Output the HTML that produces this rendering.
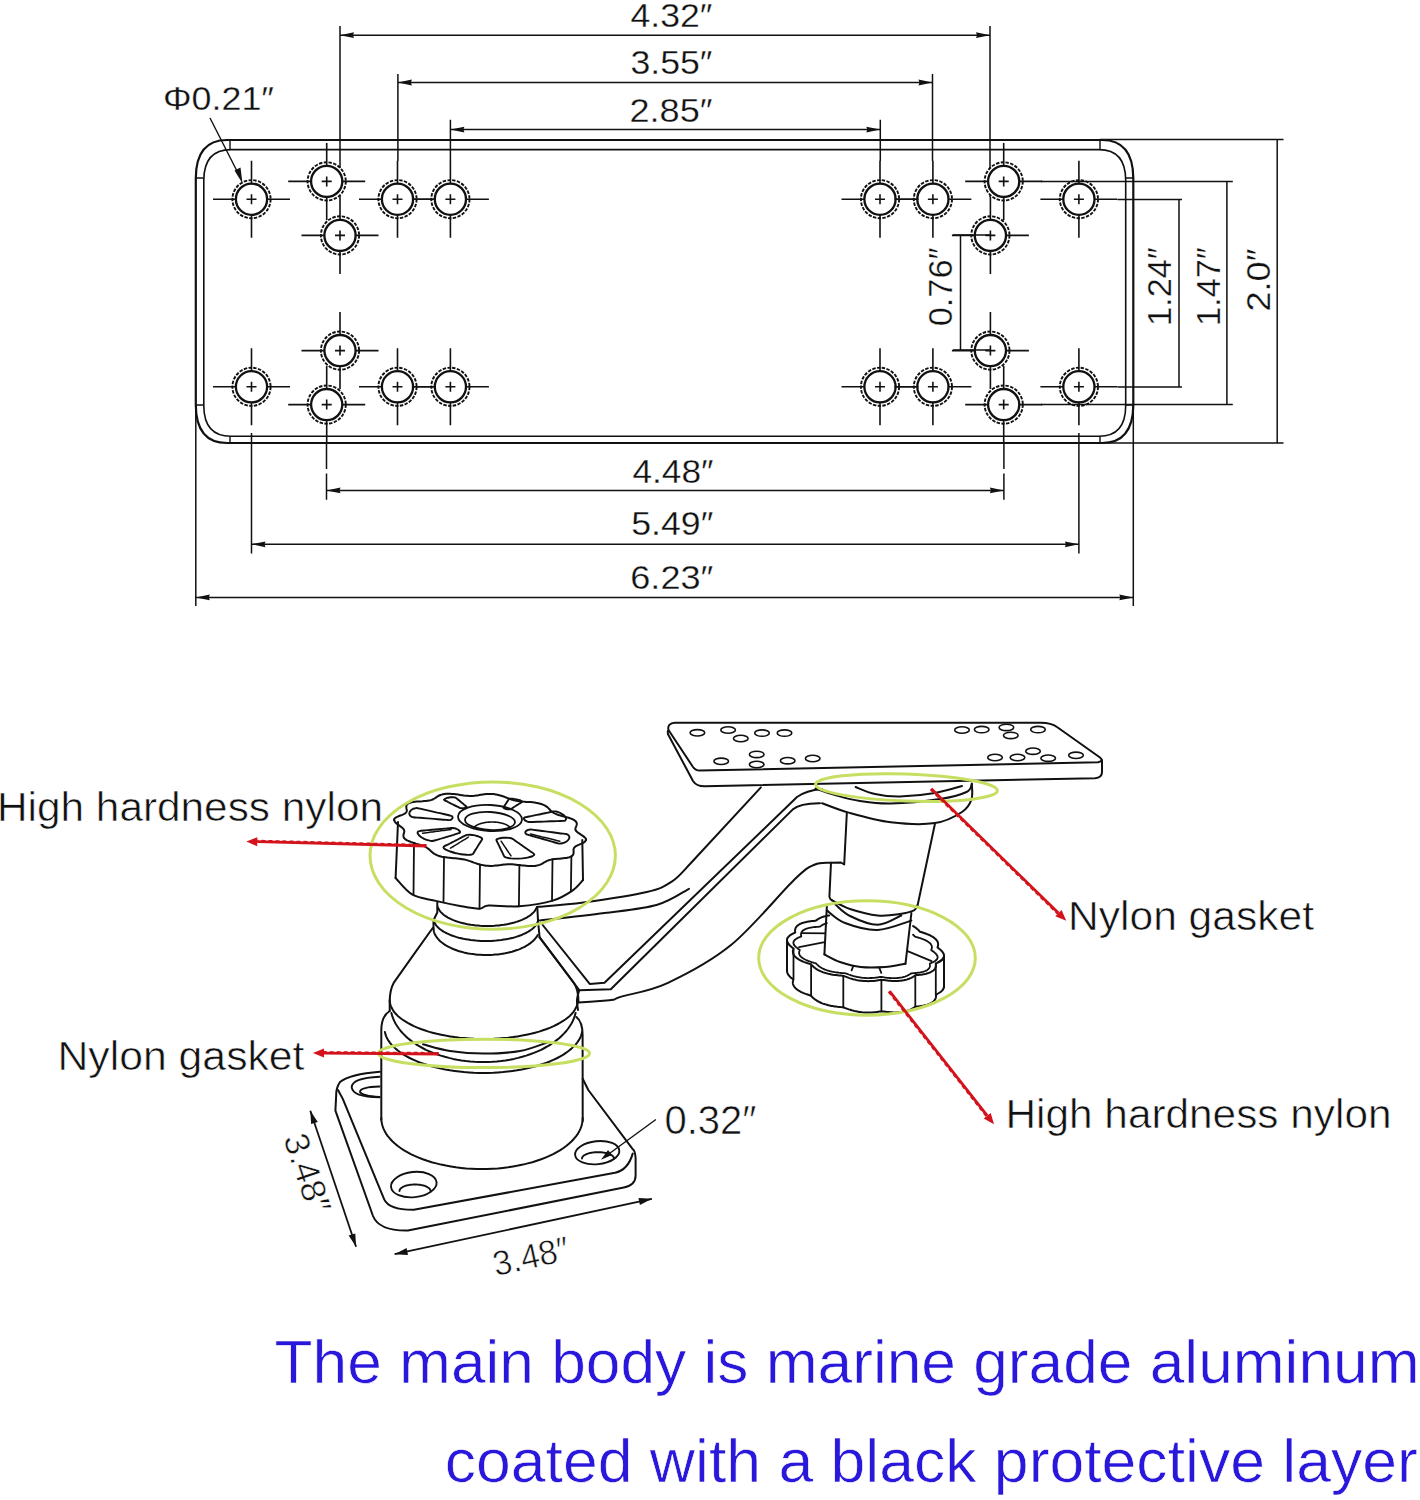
<!DOCTYPE html>
<html><head><meta charset="utf-8"><style>
html,body{margin:0;padding:0;background:#fff;}
body{width:1420px;height:1500px;overflow:hidden;position:relative;}
svg{position:absolute;left:0;top:0;}
</style></head><body>
<svg width="1420" height="1500" viewBox="0 0 1420 1500">
<path d="M227 140H1102 Q1133 140 1133.3 178 V405 Q1133 443 1102 443 H227 Q196 443 195.8 405 V178 Q196 140 227 140Z" fill="none" stroke="#111" stroke-width="2.2"/>
<path d="M231 149.6H1099 Q1125.5 149.6 1125.7 180 V406 Q1125.5 436.3 1099 436.3 H231 Q204 436.3 203.8 406 V180 Q204 149.6 231 149.6Z" fill="none" stroke="#111" stroke-width="1.6"/>
<path d="M230 140V149.6M1100 140V149.6M230 443V436.3M1100 443V436.3M195.8 178H203.8M195.8 405H203.8M1133.3 178H1125.7M1133.3 405H1125.7" stroke="#111" stroke-width="1.4"/>
<circle cx="251.5" cy="199.2" r="19.1" fill="none" stroke="#111" stroke-width="1.9" stroke-dasharray="3.4 1.4"/><circle cx="251.5" cy="199.2" r="15.6" fill="none" stroke="#111" stroke-width="2.3"/><path d="M213.0 199.2H236.5M266.5 199.2H290.0M251.5 160.7V184.2M251.5 214.2V237.7M246.5 199.2H256.5M251.5 194.2V204.2" stroke="#111" stroke-width="1.6" fill="none"/>
<circle cx="397.5" cy="199.2" r="19.1" fill="none" stroke="#111" stroke-width="1.9" stroke-dasharray="3.4 1.4"/><circle cx="397.5" cy="199.2" r="15.6" fill="none" stroke="#111" stroke-width="2.3"/><path d="M359.0 199.2H382.5M412.5 199.2H436.0M397.5 160.7V184.2M397.5 214.2V237.7M392.5 199.2H402.5M397.5 194.2V204.2" stroke="#111" stroke-width="1.6" fill="none"/>
<circle cx="450.4" cy="199.2" r="19.1" fill="none" stroke="#111" stroke-width="1.9" stroke-dasharray="3.4 1.4"/><circle cx="450.4" cy="199.2" r="15.6" fill="none" stroke="#111" stroke-width="2.3"/><path d="M411.9 199.2H435.4M465.4 199.2H488.9M450.4 160.7V184.2M450.4 214.2V237.7M445.4 199.2H455.4M450.4 194.2V204.2" stroke="#111" stroke-width="1.6" fill="none"/>
<circle cx="326.7" cy="181.4" r="19.1" fill="none" stroke="#111" stroke-width="1.9" stroke-dasharray="3.4 1.4"/><circle cx="326.7" cy="181.4" r="15.6" fill="none" stroke="#111" stroke-width="2.3"/><path d="M288.2 181.4H311.7M341.7 181.4H365.2M326.7 142.9V166.4M326.7 196.4V219.9M321.7 181.4H331.7M326.7 176.4V186.4" stroke="#111" stroke-width="1.6" fill="none"/>
<circle cx="340.0" cy="235.4" r="19.1" fill="none" stroke="#111" stroke-width="1.9" stroke-dasharray="3.4 1.4"/><circle cx="340.0" cy="235.4" r="15.6" fill="none" stroke="#111" stroke-width="2.3"/><path d="M301.5 235.4H325.0M355.0 235.4H378.5M340.0 196.9V220.4M340.0 250.4V273.9M335.0 235.4H345.0M340.0 230.4V240.4" stroke="#111" stroke-width="1.6" fill="none"/>
<circle cx="251.5" cy="386.8" r="19.1" fill="none" stroke="#111" stroke-width="1.9" stroke-dasharray="3.4 1.4"/><circle cx="251.5" cy="386.8" r="15.6" fill="none" stroke="#111" stroke-width="2.3"/><path d="M213.0 386.8H236.5M266.5 386.8H290.0M251.5 348.3V371.8M251.5 401.8V425.3M246.5 386.8H256.5M251.5 381.8V391.8" stroke="#111" stroke-width="1.6" fill="none"/>
<circle cx="397.5" cy="386.8" r="19.1" fill="none" stroke="#111" stroke-width="1.9" stroke-dasharray="3.4 1.4"/><circle cx="397.5" cy="386.8" r="15.6" fill="none" stroke="#111" stroke-width="2.3"/><path d="M359.0 386.8H382.5M412.5 386.8H436.0M397.5 348.3V371.8M397.5 401.8V425.3M392.5 386.8H402.5M397.5 381.8V391.8" stroke="#111" stroke-width="1.6" fill="none"/>
<circle cx="450.4" cy="386.8" r="19.1" fill="none" stroke="#111" stroke-width="1.9" stroke-dasharray="3.4 1.4"/><circle cx="450.4" cy="386.8" r="15.6" fill="none" stroke="#111" stroke-width="2.3"/><path d="M411.9 386.8H435.4M465.4 386.8H488.9M450.4 348.3V371.8M450.4 401.8V425.3M445.4 386.8H455.4M450.4 381.8V391.8" stroke="#111" stroke-width="1.6" fill="none"/>
<circle cx="326.7" cy="404.6" r="19.1" fill="none" stroke="#111" stroke-width="1.9" stroke-dasharray="3.4 1.4"/><circle cx="326.7" cy="404.6" r="15.6" fill="none" stroke="#111" stroke-width="2.3"/><path d="M288.2 404.6H311.7M341.7 404.6H365.2M326.7 366.1V389.6M326.7 419.6V443.1M321.7 404.6H331.7M326.7 399.6V409.6" stroke="#111" stroke-width="1.6" fill="none"/>
<circle cx="340.0" cy="350.6" r="19.1" fill="none" stroke="#111" stroke-width="1.9" stroke-dasharray="3.4 1.4"/><circle cx="340.0" cy="350.6" r="15.6" fill="none" stroke="#111" stroke-width="2.3"/><path d="M301.5 350.6H325.0M355.0 350.6H378.5M340.0 312.1V335.6M340.0 365.6V389.1M335.0 350.6H345.0M340.0 345.6V355.6" stroke="#111" stroke-width="1.6" fill="none"/>
<circle cx="1078.9" cy="199.2" r="19.1" fill="none" stroke="#111" stroke-width="1.9" stroke-dasharray="3.4 1.4"/><circle cx="1078.9" cy="199.2" r="15.6" fill="none" stroke="#111" stroke-width="2.3"/><path d="M1040.4 199.2H1063.9M1093.9 199.2H1117.4M1078.9 160.7V184.2M1078.9 214.2V237.7M1073.9 199.2H1083.9M1078.9 194.2V204.2" stroke="#111" stroke-width="1.6" fill="none"/>
<circle cx="932.9" cy="199.2" r="19.1" fill="none" stroke="#111" stroke-width="1.9" stroke-dasharray="3.4 1.4"/><circle cx="932.9" cy="199.2" r="15.6" fill="none" stroke="#111" stroke-width="2.3"/><path d="M894.4 199.2H917.9M947.9 199.2H971.4M932.9 160.7V184.2M932.9 214.2V237.7M927.9 199.2H937.9M932.9 194.2V204.2" stroke="#111" stroke-width="1.6" fill="none"/>
<circle cx="880.0" cy="199.2" r="19.1" fill="none" stroke="#111" stroke-width="1.9" stroke-dasharray="3.4 1.4"/><circle cx="880.0" cy="199.2" r="15.6" fill="none" stroke="#111" stroke-width="2.3"/><path d="M841.5 199.2H865.0M895.0 199.2H918.5M880.0 160.7V184.2M880.0 214.2V237.7M875.0 199.2H885.0M880.0 194.2V204.2" stroke="#111" stroke-width="1.6" fill="none"/>
<circle cx="1003.7" cy="181.4" r="19.1" fill="none" stroke="#111" stroke-width="1.9" stroke-dasharray="3.4 1.4"/><circle cx="1003.7" cy="181.4" r="15.6" fill="none" stroke="#111" stroke-width="2.3"/><path d="M965.2 181.4H988.7M1018.7 181.4H1042.2M1003.7 142.9V166.4M1003.7 196.4V219.9M998.7 181.4H1008.7M1003.7 176.4V186.4" stroke="#111" stroke-width="1.6" fill="none"/>
<circle cx="990.4" cy="235.4" r="19.1" fill="none" stroke="#111" stroke-width="1.9" stroke-dasharray="3.4 1.4"/><circle cx="990.4" cy="235.4" r="15.6" fill="none" stroke="#111" stroke-width="2.3"/><path d="M951.9 235.4H975.4M1005.4 235.4H1028.9M990.4 196.9V220.4M990.4 250.4V273.9M985.4 235.4H995.4M990.4 230.4V240.4" stroke="#111" stroke-width="1.6" fill="none"/>
<circle cx="1078.9" cy="386.8" r="19.1" fill="none" stroke="#111" stroke-width="1.9" stroke-dasharray="3.4 1.4"/><circle cx="1078.9" cy="386.8" r="15.6" fill="none" stroke="#111" stroke-width="2.3"/><path d="M1040.4 386.8H1063.9M1093.9 386.8H1117.4M1078.9 348.3V371.8M1078.9 401.8V425.3M1073.9 386.8H1083.9M1078.9 381.8V391.8" stroke="#111" stroke-width="1.6" fill="none"/>
<circle cx="932.9" cy="386.8" r="19.1" fill="none" stroke="#111" stroke-width="1.9" stroke-dasharray="3.4 1.4"/><circle cx="932.9" cy="386.8" r="15.6" fill="none" stroke="#111" stroke-width="2.3"/><path d="M894.4 386.8H917.9M947.9 386.8H971.4M932.9 348.3V371.8M932.9 401.8V425.3M927.9 386.8H937.9M932.9 381.8V391.8" stroke="#111" stroke-width="1.6" fill="none"/>
<circle cx="880.0" cy="386.8" r="19.1" fill="none" stroke="#111" stroke-width="1.9" stroke-dasharray="3.4 1.4"/><circle cx="880.0" cy="386.8" r="15.6" fill="none" stroke="#111" stroke-width="2.3"/><path d="M841.5 386.8H865.0M895.0 386.8H918.5M880.0 348.3V371.8M880.0 401.8V425.3M875.0 386.8H885.0M880.0 381.8V391.8" stroke="#111" stroke-width="1.6" fill="none"/>
<circle cx="1003.7" cy="404.6" r="19.1" fill="none" stroke="#111" stroke-width="1.9" stroke-dasharray="3.4 1.4"/><circle cx="1003.7" cy="404.6" r="15.6" fill="none" stroke="#111" stroke-width="2.3"/><path d="M965.2 404.6H988.7M1018.7 404.6H1042.2M1003.7 366.1V389.6M1003.7 419.6V443.1M998.7 404.6H1008.7M1003.7 399.6V409.6" stroke="#111" stroke-width="1.6" fill="none"/>
<circle cx="990.4" cy="350.6" r="19.1" fill="none" stroke="#111" stroke-width="1.9" stroke-dasharray="3.4 1.4"/><circle cx="990.4" cy="350.6" r="15.6" fill="none" stroke="#111" stroke-width="2.3"/><path d="M951.9 350.6H975.4M1005.4 350.6H1028.9M990.4 312.1V335.6M990.4 365.6V389.1M985.4 350.6H995.4M990.4 345.6V355.6" stroke="#111" stroke-width="1.6" fill="none"/>
<path d="M340 26V168M340 195V197M990 26V168M990 195V197M397.9 74V161M932.5 74V161M450.4 119.7V161M880.3 119.7V161" stroke="#111" stroke-width="1.5"/>
<path d="M340.0 35.2H990.0" stroke="#111" stroke-width="1.5"/><path d="M340.0 35.2L354.0 32.3L353.0 35.2L354.0 38.1Z" fill="#111"/><path d="M990.0 35.2L976.0 32.3L977.0 35.2L976.0 38.1Z" fill="#111"/>
<path d="M397.9 82.5H932.5" stroke="#111" stroke-width="1.5"/><path d="M397.9 82.5L411.9 79.6L410.9 82.5L411.9 85.4Z" fill="#111"/><path d="M932.5 82.5L918.5 79.6L919.5 82.5L918.5 85.4Z" fill="#111"/>
<path d="M450.4 129.6H880.3" stroke="#111" stroke-width="1.5"/><path d="M450.4 129.6L464.4 126.7L463.4 129.6L464.4 132.5Z" fill="#111"/><path d="M880.3 129.6L866.3 126.7L867.3 129.6L866.3 132.5Z" fill="#111"/>
<path d="M326.5 442V469M326.5 473.5V499.7M1003.9 442V469M1003.9 473.5V499.7M251.5 433V553.5M1078.9 433V553.5M195.8 405V606M1133.3 405V606" stroke="#111" stroke-width="1.5"/>
<path d="M326.5 490.4H1003.9" stroke="#111" stroke-width="1.5"/><path d="M326.5 490.4L340.5 487.5L339.5 490.4L340.5 493.3Z" fill="#111"/><path d="M1003.9 490.4L989.9 487.5L990.9 490.4L989.9 493.3Z" fill="#111"/>
<path d="M251.5 544.3H1078.9" stroke="#111" stroke-width="1.5"/><path d="M251.5 544.3L265.5 541.4L264.5 544.3L265.5 547.2Z" fill="#111"/><path d="M1078.9 544.3L1064.9 541.4L1065.9 544.3L1064.9 547.2Z" fill="#111"/>
<path d="M195.8 597.4H1133.3" stroke="#111" stroke-width="1.5"/><path d="M195.8 597.4L209.8 594.5L208.8 597.4L209.8 600.3Z" fill="#111"/><path d="M1133.3 597.4L1119.3 594.5L1120.3 597.4L1119.3 600.3Z" fill="#111"/>
<path d="M1100 139.6H1283.5M1100 443H1283.5M1277.2 139.6V443M1041 181.5H1232.8M1041 404.6H1232.8M1226.9 181.5V404.6M1117.5 199.6H1182M1117.5 387H1182M1179 199.6V387M953 235H990M953 350H990M960.5 235V350" stroke="#111" stroke-width="1.5" fill="none"/>
<g font-family='"Liberation Sans", sans-serif' fill="#111" stroke="#fff" stroke-width="0.3">
<text x="630.5" y="27.3" font-size="34" text-anchor="start" textLength="82" lengthAdjust="spacingAndGlyphs" >4.32″</text>
<text x="630.5" y="74.3" font-size="34" text-anchor="start" textLength="82" lengthAdjust="spacingAndGlyphs" >3.55″</text>
<text x="629.5" y="121.5" font-size="34" text-anchor="start" textLength="83" lengthAdjust="spacingAndGlyphs" >2.85″</text>
<text x="632.5" y="483.3" font-size="34" text-anchor="start" textLength="81" lengthAdjust="spacingAndGlyphs" >4.48″</text>
<text x="631.3" y="534.9" font-size="34" text-anchor="start" textLength="82" lengthAdjust="spacingAndGlyphs" >5.49″</text>
<text x="630.3" y="588.9" font-size="34" text-anchor="start" textLength="83" lengthAdjust="spacingAndGlyphs" >6.23″</text>
<text x="163" y="109.8" font-size="34" text-anchor="start" textLength="111" lengthAdjust="spacingAndGlyphs" >Φ0.21″</text>
<text x="0" y="0" font-size="34" text-anchor="middle" textLength="63" lengthAdjust="spacingAndGlyphs" transform="translate(1270 280) rotate(-90)">2.0″</text>
<text x="0" y="0" font-size="34" text-anchor="middle" textLength="79" lengthAdjust="spacingAndGlyphs" transform="translate(1219.7 286.5) rotate(-90)">1.47″</text>
<text x="0" y="0" font-size="34" text-anchor="middle" textLength="79" lengthAdjust="spacingAndGlyphs" transform="translate(1171 286.5) rotate(-90)">1.24″</text>
<text x="0" y="0" font-size="34" text-anchor="middle" textLength="79" lengthAdjust="spacingAndGlyphs" transform="translate(952.4 286.8) rotate(-90)">0.76″</text>
</g>
<path d="M210 118L240 177" stroke="#111" stroke-width="1.4"/><path d="M242.5 183.5L234.5 170.5L240.5 167.5Z" fill="#111"/>
<path d="M675 722.8 L1040 722.7 Q1051 722.5 1057 727 L1100 757.5 Q1104 761 1098 762.3 L700 770.5 Q695.5 770.6 693 767 L668.5 730 Q667 723.5 675 722.8Z" fill="none" stroke="#111" stroke-width="2.0" stroke-linejoin="round" stroke-linecap="round"/>
<path d="M667.8 731 L667.9 734 L693 781 Q696.5 786.5 705 786.3 L1095 778.2 Q1102 777.8 1102 772 L1102 760" fill="none" stroke="#111" stroke-width="2.0" stroke-linejoin="round" stroke-linecap="round"/>
<ellipse cx="697.4" cy="732.8" rx="7.3" ry="3.2" fill="none" stroke="#111" stroke-width="1.6"/>
<ellipse cx="728.1" cy="730" rx="7.3" ry="3.2" fill="none" stroke="#111" stroke-width="1.6"/>
<ellipse cx="740.8" cy="738.5" rx="7.3" ry="3.2" fill="none" stroke="#111" stroke-width="1.6"/>
<ellipse cx="762" cy="733.1" rx="7.3" ry="3.2" fill="none" stroke="#111" stroke-width="1.6"/>
<ellipse cx="784.5" cy="733.1" rx="7.3" ry="3.2" fill="none" stroke="#111" stroke-width="1.6"/>
<ellipse cx="721.2" cy="761.3" rx="7.3" ry="3.2" fill="none" stroke="#111" stroke-width="1.6"/>
<ellipse cx="756.7" cy="754.4" rx="7.3" ry="3.2" fill="none" stroke="#111" stroke-width="1.6"/>
<ellipse cx="756.7" cy="764.5" rx="7.3" ry="3.2" fill="none" stroke="#111" stroke-width="1.6"/>
<ellipse cx="787.7" cy="760.7" rx="7.3" ry="3.2" fill="none" stroke="#111" stroke-width="1.6"/>
<ellipse cx="812.7" cy="758.5" rx="7.3" ry="3.2" fill="none" stroke="#111" stroke-width="1.6"/>
<ellipse cx="962" cy="730" rx="7.3" ry="3.2" fill="none" stroke="#111" stroke-width="1.6"/>
<ellipse cx="981.7" cy="729.6" rx="7.3" ry="3.2" fill="none" stroke="#111" stroke-width="1.6"/>
<ellipse cx="1006.4" cy="727.4" rx="7.3" ry="3.2" fill="none" stroke="#111" stroke-width="1.6"/>
<ellipse cx="1010.8" cy="735.4" rx="7.3" ry="3.2" fill="none" stroke="#111" stroke-width="1.6"/>
<ellipse cx="1038" cy="729.6" rx="7.3" ry="3.2" fill="none" stroke="#111" stroke-width="1.6"/>
<ellipse cx="995" cy="757.5" rx="7.3" ry="3.2" fill="none" stroke="#111" stroke-width="1.6"/>
<ellipse cx="1017.5" cy="757.5" rx="7.3" ry="3.2" fill="none" stroke="#111" stroke-width="1.6"/>
<ellipse cx="1033" cy="751.2" rx="7.3" ry="3.2" fill="none" stroke="#111" stroke-width="1.6"/>
<ellipse cx="1048.2" cy="758.2" rx="7.3" ry="3.2" fill="none" stroke="#111" stroke-width="1.6"/>
<ellipse cx="1076" cy="755.3" rx="7.3" ry="3.2" fill="none" stroke="#111" stroke-width="1.6"/>
<path d="M538.0 906.8C545.6 906.1 565.3 905.0 583.4 902.5C601.5 900.0 632.0 895.5 646.8 892.0C661.6 888.5 664.9 886.1 672.1 881.4C679.3 876.7 687.0 866.9 690.0 864.0L760.9 787.4" fill="none" stroke="#111" stroke-width="2.0" stroke-linejoin="round" stroke-linecap="round"/>
<path d="M540.0 920.5C550.8 919.3 585.0 915.7 604.5 913.1C624.0 910.5 643.2 908.8 657.3 904.7C671.4 900.7 683.7 891.4 689.0 888.8" fill="none" stroke="#111" stroke-width="2.0" stroke-linejoin="round" stroke-linecap="round"/>
<path d="M542.7 925.0L589.7 983.9L604.5 982.8L797.0 797.0Q806 790.5 822 789" fill="none" stroke="#111" stroke-width="2.0" stroke-linejoin="round" stroke-linecap="round"/>
<path d="M539.6 937.3L579.2 990.2L610.8 989.2L792.6 809.6Q800 803 820 803.2" fill="none" stroke="#111" stroke-width="2.0" stroke-linejoin="round" stroke-linecap="round"/>
<path d="M579.2 990.2C578.8 991.8 577.2 996.7 577.0 1000.0C576.8 1003.3 577.8 1008.3 578.0 1010.0" fill="none" stroke="#111" stroke-width="2.0" stroke-linejoin="round" stroke-linecap="round"/>
<path d="M578.3 1002.4C581.9 1002.2 594.2 1001.4 600.0 1001.0C605.8 1000.6 609.4 1000.5 613.0 999.8C616.6 999.1 612.2 999.4 621.4 996.6C630.6 993.8 649.7 991.4 668.0 982.8C686.3 974.2 710.2 962.0 731.3 944.8C752.4 927.5 780.8 892.7 794.7 879.3C808.7 865.9 809.0 867.3 815.0 864.5C821.0 861.7 828.3 863.0 831.0 862.7" fill="none" stroke="#111" stroke-width="2.0" stroke-linejoin="round" stroke-linecap="round"/>
<path d="M846.8 813.5 L844.2 864.5 L841 862.5 L831 862.7 L829.4 896.9 Q830 899.5 832 900.3" fill="none" stroke="#111" stroke-width="2.0" stroke-linejoin="round" stroke-linecap="round"/>
<path d="M934.9 824 L917.3 906.8" fill="none" stroke="#111" stroke-width="2.0" stroke-linejoin="round" stroke-linecap="round"/>
<path d="M832.0 900.3C835.0 901.8 842.4 906.5 850.0 909.0C857.6 911.5 869.3 914.7 877.6 915.5C885.9 916.3 893.9 914.9 900.0 914.0C906.1 913.1 911.1 911.8 914.0 910.4C916.9 909.0 916.8 906.2 917.3 905.4" fill="none" stroke="#111" stroke-width="2.0" stroke-linejoin="round" stroke-linecap="round"/>
<path d="M822.0 803.2C826.4 804.8 837.1 809.4 848.6 812.6C860.1 815.8 876.4 820.5 890.8 822.3C905.2 824.0 923.0 824.8 934.9 823.1C946.8 821.4 955.9 816.0 962.0 812.0C968.1 808.0 969.9 804.1 971.5 799.4C973.1 794.6 971.8 786.1 971.8 783.5" fill="none" stroke="#111" stroke-width="2.0" stroke-linejoin="round" stroke-linecap="round"/>
<path d="M815.5 788.5C818.8 789.6 827.6 792.9 835.0 795.0C842.4 797.1 850.7 799.6 860.0 801.0C869.3 802.4 877.5 803.8 890.8 803.5C904.1 803.2 927.4 800.9 940.0 799.0C952.6 797.1 961.2 794.5 966.5 792.0C971.8 789.5 970.9 785.3 971.8 784.0" fill="none" stroke="#111" stroke-width="2.0" stroke-linejoin="round" stroke-linecap="round"/>
<path d="M855.6 787.0C858.8 788.2 867.6 792.4 875.0 794.0C882.4 795.6 890.0 796.7 900.0 796.5C910.0 796.3 924.7 794.8 935.0 793.0C945.3 791.2 957.5 787.2 962.0 786.0" fill="none" stroke="#111" stroke-width="2.0" stroke-linejoin="round" stroke-linecap="round"/>
<path d="M788.9 944.5L788.7 944.2L788.5 944.0L788.3 943.7L788.1 943.5L787.9 943.2L787.8 943.0L787.6 942.7L787.5 942.4L787.4 942.2L787.3 941.9L787.2 941.7L787.1 941.4L787.1 941.2L787.0 940.9L787.0 940.7L787.0 940.4L787.0 940.2L787.0 939.9L787.0 939.7L787.0 939.5L787.1 939.2L787.1 939.0L787.2 938.7L787.3 938.5L787.4 938.3L787.5 938.0L787.7 937.8L787.8 937.6L788.0 937.4L788.1 937.1L788.3 936.9L788.5 936.7L788.7 936.5L788.9 936.3L789.2 936.1L789.4 935.9L789.6 935.6L789.9 935.4L790.2 935.2L790.5 935.1L790.7 934.9L791.0 934.7L791.4 934.5L791.7 934.3L792.0 934.1L792.3 933.9L792.7 933.7L793.0 933.6L793.3 933.4L793.7 933.2L794.1 933.1L794.4 932.9L794.8 932.7L795.2 932.6L795.2 932.3L795.1 932.1L795.1 931.8L795.1 931.6L795.1 931.3L795.1 931.1L795.0 930.8L795.1 930.6L795.1 930.3L795.1 930.1L795.1 929.8L795.2 929.6L795.2 929.3L795.3 929.1L795.3 928.8L795.4 928.6L795.5 928.4L795.6 928.1L795.7 927.9L795.8 927.6L796.0 927.4L796.1 927.2L796.3 927.0L796.4 926.7L796.6 926.5L796.8 926.3L797.0 926.1L797.2 925.9L797.5 925.7L797.7 925.5L798.0 925.3L798.2 925.1L798.5 924.9L798.8 924.7L799.1 924.5L799.4 924.3L799.7 924.2L800.1 924.0L800.4 923.8L800.8 923.6L801.2 923.5L801.5 923.3L801.9 923.2L802.3 923.0L802.8 922.9L803.2 922.8L803.6 922.6L804.0 922.5L804.5 922.4L805.0 922.3L805.4 922.2L805.9 922.1L806.4 921.9L806.9 921.8L807.4 921.8L807.9 921.7L808.4 921.6L808.9 921.5L809.4 921.4L809.9 921.3L810.4 921.3L811.0 921.2L811.5 921.1L812.1 921.1L812.6 921.0L813.1 921.0L813.7 920.9L814.2 920.9L814.8 920.8L815.3 920.8L815.8 920.7L816.1 920.5L816.3 920.3L816.6 920.1L816.9 919.9L817.2 919.7L817.4 919.5L817.7 919.3L818.0 919.1L818.4 918.9L818.7 918.7L819.0 918.6L819.3 918.4L819.7 918.2L820.0 918.0L820.4 917.9L820.8 917.7L821.1 917.5L821.5 917.4L821.9 917.2L822.3 917.1L822.7 916.9L823.1 916.8L823.5 916.7L824.0 916.5L824.4 916.4L824.9 916.3L825.3 916.2L825.8 916.1L826.3 915.9L826.7 915.8L827.2 915.8L827.7 915.7L828.2 915.6L828.7 915.5L829.2 915.4" fill="none" stroke="#111" stroke-width="2.0" stroke-linejoin="round" stroke-linecap="round"/>
<path d="M913.0 926.0L913.3 926.2L913.7 926.5L914.1 926.7L914.4 926.9L914.8 927.1L915.1 927.4L915.5 927.6L915.8 927.8L916.1 928.1L916.4 928.3L916.7 928.5L917.0 928.8L917.3 929.0L917.5 929.3L917.8 929.5L918.1 929.7L918.3 930.0L918.6 930.2L918.8 930.5L919.0 930.7L919.2 931.0L919.5 931.2L919.7 931.5L919.9 931.7L920.4 931.9L921.0 932.0L921.5 932.2L922.0 932.3L922.5 932.5L923.0 932.7L923.5 932.8L924.0 933.0L924.5 933.2L925.0 933.3L925.5 933.5L926.0 933.7L926.5 933.9L927.0 934.1L927.4 934.3L927.9 934.4L928.4 934.6L928.8 934.8L929.3 935.0L929.7 935.2L930.1 935.4L930.5 935.7L930.9 935.9L931.3 936.1L931.7 936.3L932.1 936.5L932.5 936.7L932.8 936.9L933.2 937.2L933.5 937.4L933.8 937.6L934.2 937.9L934.5 938.1L934.8 938.3L935.0 938.6L935.3 938.8L935.6 939.0L935.8 939.3L936.0 939.5L936.2 939.8L936.5 940.0L936.6 940.3L936.8 940.5L937.0 940.7L937.2 941.0L937.3 941.2L937.4 941.5L937.6 941.7L937.7 942.0L937.8 942.2L937.8 942.5L937.9 942.7L938.0 943.0L938.0 943.2L938.1 943.5L938.1 943.7L938.1 944.0L938.1 944.2L938.1 944.5L938.1 944.7L938.1 945.0L938.1 945.2L938.1 945.5L938.0 945.7L938.0 946.0L937.9 946.2L937.8 946.4L937.8 946.7L937.7 946.9L937.6 947.1L937.5 947.4L937.6 947.6L938.0 947.8L938.3 948.1L938.6 948.3L938.9 948.5L939.2 948.8L939.5 949.0L939.8 949.3L940.1 949.5L940.4 949.7L940.6 950.0L940.9 950.2L941.1 950.5L941.4 950.7L941.6 951.0L941.9 951.2L942.1 951.5L942.3 951.7L942.5 952.0L942.7 952.2L942.8 952.5L943.0 952.7L943.2 953.0L943.3 953.2L943.4 953.5L943.6 953.7L943.7 954.0L943.8 954.2L943.8 954.5L943.9 954.7L944.0 955.0L944.0 955.2L944.0 955.4L944.0 955.7L944.0 955.9L944.0 956.2L944.0 956.4L944.0 956.6L943.9 956.9L943.8 957.1L943.8 957.4L943.7 957.6L943.5 957.8L943.4 958.0L943.3 958.3L943.1 958.5L943.0 958.7L942.8 958.9L942.6 959.1L942.4 959.4L942.2 959.6L942.0 959.8L941.8 960.0L941.5 960.2L941.3 960.4L941.0 960.6L940.8 960.8L940.5 961.0L940.2 961.2L939.9 961.4L939.6 961.5L939.3 961.7L939.0 961.9L938.7 962.1L938.3 962.3" fill="none" stroke="#111" stroke-width="2.0" stroke-linejoin="round" stroke-linecap="round"/>
<path d="M794.1 944.9L794.0 944.7L793.9 944.5L793.8 944.4L793.7 944.2L793.7 944.0L793.6 943.8L793.5 943.6L793.5 943.4L793.5 943.2L793.4 943.0L793.4 942.9L793.4 942.7L793.4 942.5L793.5 942.3L793.5 942.1L793.5 941.9L793.6 941.8L793.7 941.6L793.7 941.4L793.8 941.2L793.9 941.1L794.0 940.9L794.1 940.7L794.2 940.6L794.4 940.4L794.5 940.2L794.7 940.1L794.8 939.9L795.0 939.8L795.2 939.6L795.4 939.4L795.6 939.3L795.8 939.1L796.0 939.0L796.2 938.8L796.4 938.7L796.7 938.5L796.9 938.4L797.2 938.3L797.4 938.1L797.7 938.0L798.0 937.9L798.2 937.7L798.5 937.6L798.8 937.5L799.1 937.3L799.4 937.2L799.7 937.1L800.0 937.0L800.3 936.9L800.6 936.7L800.9 936.6L801.2 936.5L801.3 936.3L801.2 936.2L801.2 936.0L801.1 935.8L801.1 935.6L801.1 935.4L801.1 935.2L801.0 935.0L801.0 934.8L801.0 934.6L801.0 934.4L801.0 934.3L801.0 934.1L801.1 933.9L801.1 933.7L801.1 933.5L801.2 933.3L801.2 933.1L801.3 933.0L801.3 932.8L801.4 932.6L801.5 932.4L801.6 932.2L801.7 932.1L801.8 931.9L801.9 931.7L802.0 931.6L802.1 931.4L802.3 931.2L802.4 931.1L802.6 930.9L802.8 930.8L803.0 930.6L803.1 930.4L803.3 930.3L803.6 930.1L803.8 930.0L804.0 929.9L804.2 929.7L804.5 929.6L804.7 929.5L805.0 929.3L805.3 929.2L805.5 929.1L805.8 929.0L806.1 928.8L806.4 928.7L806.8 928.6L807.1 928.5L807.4 928.4L807.7 928.3L808.1 928.2L808.4 928.1L808.8 928.0L809.2 927.9L809.5 927.9L809.9 927.8L810.3 927.7L810.7 927.6L811.1 927.6L811.5 927.5L811.9 927.4L812.3 927.4L812.7 927.3L813.1 927.2L813.6 927.2L814.0 927.1L814.4 927.1L814.9 927.0L815.3 927.0L815.7 927.0L816.2 926.9L816.6 926.9L817.1 926.9L817.5 926.8L818.0 926.8L818.4 926.8L818.9 926.7L819.3 926.7L819.8 926.7L820.1 926.6L820.3 926.4L820.5 926.3L820.7 926.1L820.9 926.0L821.1 925.8L821.3 925.7L821.5 925.5L821.8 925.4L822.0 925.2L822.2 925.1L822.5 925.0L822.7 924.8L823.0 924.7L823.3 924.5L823.5 924.4L823.8 924.3L824.1 924.2L824.4 924.0L824.7 923.9L825.0 923.8L825.3 923.7L825.6 923.6L825.9 923.4L826.2 923.3L826.6 923.2L826.9 923.1" fill="none" stroke="#111" stroke-width="1.8" stroke-linejoin="round" stroke-linecap="round"/>
<path d="M913.0 934.6L913.2 934.8L913.4 935.0L913.5 935.1L913.7 935.3L913.9 935.5L914.0 935.7L914.2 935.8L914.4 936.0L914.5 936.2L914.7 936.4L914.8 936.5L915.0 936.7L915.4 936.8L915.8 936.9L916.2 937.0L916.6 937.1L917.0 937.2L917.3 937.3L917.7 937.4L918.1 937.6L918.5 937.7L918.9 937.8L919.3 937.9L919.6 938.0L920.0 938.1L920.4 938.3L920.8 938.4L921.1 938.5L921.5 938.6L921.9 938.8L922.2 938.9L922.6 939.0L922.9 939.2L923.2 939.3L923.6 939.4L923.9 939.6L924.2 939.7L924.6 939.8L924.9 940.0L925.2 940.1L925.5 940.3L925.8 940.4L926.1 940.6L926.4 940.7L926.7 940.9L926.9 941.0L927.2 941.2L927.5 941.3L927.7 941.5L928.0 941.6L928.2 941.8L928.4 942.0L928.7 942.1L928.9 942.3L929.1 942.5L929.3 942.6L929.5 942.8L929.7 942.9L929.9 943.1L930.0 943.3L930.2 943.4L930.4 943.6L930.5 943.8L930.7 943.9L930.8 944.1L930.9 944.3L931.0 944.5L931.1 944.6L931.2 944.8L931.3 945.0L931.4 945.1L931.5 945.3L931.6 945.5L931.6 945.7L931.7 945.8L931.7 946.0L931.8 946.2L931.8 946.3L931.9 946.5L931.9 946.7L931.9 946.9L931.9 947.0L931.9 947.2L931.9 947.4L931.9 947.5L931.9 947.7L931.9 947.9L931.8 948.0L931.8 948.2L931.8 948.4L931.7 948.5L931.7 948.7L931.6 948.9L931.6 949.0L931.5 949.2L931.4 949.4L931.4 949.5L931.3 949.7L931.2 949.8L931.2 950.0L931.2 950.2L931.4 950.3L931.7 950.5L931.9 950.6L932.2 950.8L932.4 951.0L932.6 951.1L932.9 951.3L933.1 951.4L933.3 951.6L933.6 951.8L933.8 951.9L934.0 952.1L934.2 952.3L934.4 952.4L934.6 952.6L934.8 952.8L935.0 953.0L935.2 953.1L935.4 953.3L935.6 953.5L935.7 953.6L935.9 953.8L936.1 954.0L936.2 954.2L936.3 954.3L936.5 954.5L936.6 954.7L936.7 954.8L936.8 955.0L936.9 955.2L937.0 955.4L937.1 955.5L937.2 955.7L937.3 955.9L937.4 956.0L937.4 956.2L937.5 956.4L937.5 956.5L937.5 956.7L937.5 956.9L937.6 957.0L937.6 957.2L937.6 957.4L937.6 957.5L937.5 957.7L937.5 957.9L937.5 958.0L937.4 958.2L937.4 958.3L937.3 958.5L937.2 958.7L937.2 958.8L937.1 959.0L937.0 959.1L936.9 959.3L936.8 959.4L936.6 959.6L936.5 959.7L936.4 959.9" fill="none" stroke="#111" stroke-width="1.8" stroke-linejoin="round" stroke-linecap="round"/>
<path d="M944.0 956.3L943.9 956.9L943.7 957.5L943.4 958.1L943.0 958.7L942.5 959.3L941.9 959.9L941.3 960.4L940.5 960.9L939.8 961.5L938.9 961.9L938.0 962.4L937.1 962.9L936.1 963.3L935.9 963.9L935.9 964.6L936.0 965.2L935.9 965.9L935.8 966.5L935.7 967.2L935.4 967.8L935.1 968.4L934.7 969.1L934.2 969.6L933.7 970.2L933.0 970.7L932.3 971.2L931.5 971.7L930.6 972.2L929.6 972.6L928.6 973.0L927.4 973.3L926.3 973.7L925.0 974.0L923.7 974.2L922.4 974.5L921.0 974.7L919.6 974.8L918.2 975.0L916.7 975.1L915.3 975.3L914.6 975.8L913.8 976.3L913.1 976.8L912.2 977.3L911.3 977.8L910.4 978.2L909.4 978.7L908.3 979.0L907.2 979.4L906.1 979.7L904.8 980.0L903.6 980.3L902.2 980.5L900.8 980.7L899.4 980.8L898.0 980.9L896.5 981.0L895.0 981.0L893.4 981.0L891.9 980.9L890.3 980.8L888.7 980.7L887.2 980.5L885.6 980.3L884.0 980.1L882.5 979.9L881.0 979.8L879.7 980.1L878.3 980.3L877.0 980.5L875.6 980.7L874.1 980.9L872.7 981.0L871.2 981.1L869.7 981.1L868.2 981.2L866.7 981.1L865.1 981.1L863.6 981.0L862.0 980.8L860.5 980.7L859.0 980.4L857.5 980.2L856.0 979.9L854.5 979.5L853.0 979.2L851.6 978.8L850.2 978.4L848.8 977.9L847.5 977.4L846.2 976.9L844.9 976.4L843.7 975.9L842.3 975.7L840.7 975.6L839.1 975.5L837.6 975.3L836.0 975.1L834.4 974.9L832.9 974.7L831.3 974.4L829.8 974.1L828.3 973.8L826.9 973.4L825.5 973.0L824.1 972.6L822.8 972.2L821.6 971.7L820.4 971.2L819.2 970.6L818.2 970.1L817.1 969.5L816.2 968.9L815.3 968.2L814.5 967.6L813.7 967.0L813.0 966.3L812.3 965.6L811.7 965.0L811.1 964.3L809.7 963.9L808.4 963.5L807.0 963.0L805.7 962.5L804.3 962.1L803.1 961.6L801.9 961.0L800.7 960.5L799.6 959.9L798.6 959.3L797.7 958.7L796.8 958.1L796.0 957.5L795.3 956.8L794.7 956.2L794.2 955.5L793.8 954.9L793.4 954.2L793.2 953.5L793.0 952.9L792.9 952.2L792.9 951.5L792.9 950.9L793.0 950.2L793.2 949.6L793.4 948.9L793.2 948.3L792.4 947.7L791.6 947.0L790.8 946.4L790.1 945.7L789.4 945.1L788.8 944.4L788.3 943.7L787.8 943.1L787.5 942.4L787.2 941.7L787.0 941.1L787.0 940.4L787.0 939.7" fill="none" stroke="#111" stroke-width="2.0" stroke-linejoin="round" stroke-linecap="round"/>
<path d="M936.4 959.9L935.9 960.3L935.4 960.8L934.7 961.2L934.1 961.6L933.4 962.0L932.6 962.4L931.8 962.7L930.9 963.1L930.1 963.4L929.8 963.8L929.9 964.4L930.0 964.9L930.0 965.5L930.0 966.0L929.9 966.5L929.7 967.0L929.5 967.5L929.3 968.0L928.9 968.5L928.5 969.0L928.0 969.4L927.4 969.9L926.8 970.3L926.1 970.6L925.3 971.0L924.5 971.3L923.5 971.6L922.6 971.9L921.5 972.1L920.4 972.4L919.3 972.6L918.1 972.7L916.9 972.9L915.7 973.0L914.5 973.1L913.2 973.2L911.9 973.3L910.9 973.5L910.3 973.9L909.7 974.3L909.0 974.7L908.3 975.1L907.6 975.5L906.8 975.9L906.0 976.2L905.1 976.6L904.1 976.8L903.1 977.1L902.1 977.4L901.0 977.6L899.9 977.7L898.7 977.9L897.5 978.0L896.3 978.1L895.0 978.1L893.7 978.1L892.3 978.1L891.0 978.1L889.6 978.0L888.3 977.9L886.9 977.8L885.5 977.6L884.2 977.4L882.8 977.2L881.4 977.0L880.1 976.9L879.0 977.1L877.9 977.3L876.7 977.5L875.5 977.6L874.3 977.8L873.1 977.9L871.8 978.0L870.5 978.0L869.2 978.1L867.9 978.1L866.6 978.1L865.3 978.0L863.9 977.9L862.6 977.8L861.2 977.6L859.9 977.4L858.6 977.2L857.3 977.0L856.0 976.7L854.8 976.4L853.5 976.1L852.3 975.7L851.1 975.3L850.0 974.9L848.8 974.5L847.7 974.1L846.6 973.7L845.6 973.3L844.3 973.1L842.9 973.1L841.5 973.0L840.2 972.8L838.8 972.7L837.4 972.5L836.1 972.4L834.7 972.2L833.4 971.9L832.1 971.7L830.8 971.4L829.6 971.1L828.4 970.7L827.2 970.4L826.1 970.0L825.0 969.6L824.0 969.1L823.0 968.7L822.1 968.2L821.3 967.7L820.5 967.2L819.7 966.7L819.0 966.2L818.4 965.7L817.8 965.1L817.2 964.6L816.7 964.1L816.2 963.5L815.3 963.1L814.0 962.8L812.8 962.4L811.6 962.1L810.4 961.7L809.3 961.3L808.2 960.9L807.1 960.4L806.1 960.0L805.1 959.5L804.2 959.1L803.4 958.6L802.6 958.1L801.9 957.6L801.3 957.1L800.8 956.5L800.3 956.0L799.9 955.5L799.6 954.9L799.4 954.4L799.2 953.9L799.1 953.3L799.1 952.8L799.1 952.2L799.2 951.7L799.4 951.2L799.5 950.7L799.8 950.2L799.6 949.7L798.8 949.2L798.0 948.7L797.3 948.1L796.6 947.6L796.0 947.1L795.4 946.5L794.9 946.0L794.5 945.5L794.1 944.9" fill="none" stroke="#111" stroke-width="1.8" stroke-linejoin="round" stroke-linecap="round"/>
<path d="M787.0 939.7L787.0 970.7" fill="none" stroke="#111" stroke-width="2.0" stroke-linejoin="round" stroke-linecap="round"/>
<path d="M944.0 956.3L944.0 987.3" fill="none" stroke="#111" stroke-width="2.0" stroke-linejoin="round" stroke-linecap="round"/>
<path d="M943.9 987.2L943.7 987.9L943.5 988.5L943.2 989.1L942.9 989.8L942.4 990.3L941.8 990.9L941.2 991.5L940.5 992.0L939.7 992.5L938.9 993.0L938.1 993.5L937.2 994.0L936.2 994.5L936.0 995.1L936.0 995.7L936.0 996.4L935.9 997.1L935.8 997.7L935.6 998.4L935.3 999.0L935.0 999.6L934.6 1000.2L934.1 1000.8L933.5 1001.4L932.9 1001.9L932.2 1002.4L931.3 1002.9L930.4 1003.4L929.5 1003.8L928.4 1004.2L927.3 1004.6L926.2 1004.9L924.9 1005.2L923.7 1005.5L922.3 1005.8L921.0 1006.0L919.6 1006.2L918.2 1006.4L916.8 1006.5L915.4 1006.7L914.6 1007.2L913.9 1007.7L913.1 1008.2L912.2 1008.7L911.3 1009.2L910.3 1009.6L909.3 1010.0L908.2 1010.4L907.1 1010.8L905.9 1011.1L904.7 1011.4L903.4 1011.7L902.1 1011.9L900.7 1012.1L899.3 1012.2L897.9 1012.3L896.4 1012.4L894.9 1012.4L893.3 1012.4L891.8 1012.3L890.2 1012.2L888.7 1012.1L887.1 1012.0L885.5 1011.8L884.0 1011.6L882.4 1011.4L881.0 1011.4L879.7 1011.6L878.3 1011.8L876.9 1012.0L875.5 1012.2L874.1 1012.3L872.6 1012.5L871.2 1012.6L869.7 1012.6L868.1 1012.6L866.6 1012.6L865.1 1012.5L863.5 1012.4L862.0 1012.3L860.5 1012.1L858.9 1011.9L857.4 1011.6L855.9 1011.3L854.4 1011.0L853.0 1010.6L851.6 1010.3L850.2 1009.8L848.8 1009.4L847.5 1008.9L846.1 1008.4L844.9 1008.0L843.6 1007.4L842.2 1007.2L840.6 1007.1L839.1 1006.9L837.5 1006.8L835.9 1006.6L834.4 1006.4L832.8 1006.1L831.3 1005.9L829.8 1005.6L828.4 1005.2L826.9 1004.8L825.5 1004.4L824.2 1004.0L822.9 1003.6L821.6 1003.1L820.4 1002.5L819.3 1002.0L818.2 1001.4L817.2 1000.8L816.2 1000.2L815.3 999.6L814.4 999.0L813.6 998.3L812.9 997.7L812.2 997.0L811.6 996.3L811.0 995.7L809.6 995.3L808.3 994.8L806.9 994.3L805.6 993.9L804.3 993.4L803.1 992.9L801.9 992.3L800.8 991.8L799.7 991.2L798.7 990.6L797.8 990.0L796.9 989.4L796.1 988.7L795.4 988.1L794.8 987.4L794.3 986.8L793.9 986.1L793.5 985.4L793.2 984.7L793.0 984.0L792.9 983.4L792.8 982.7L792.9 982.0L792.9 981.4L793.1 980.7L793.2 980.1L793.1 979.4L792.3 978.8L791.5 978.1L790.7 977.5L790.1 976.8L789.4 976.1L788.9 975.5L788.4 974.8L787.9 974.1L787.6 973.4L787.3 972.8L787.2 972.1L787.1 971.4L787.1 970.8" fill="none" stroke="#111" stroke-width="2.0" stroke-linejoin="round" stroke-linecap="round"/>
<path d="M935.8 963.5L935.8 994.6" fill="none" stroke="#111" stroke-width="1.8" stroke-linejoin="round" stroke-linecap="round"/>
<path d="M915.3 975.3L915.3 1006.6" fill="none" stroke="#111" stroke-width="1.8" stroke-linejoin="round" stroke-linecap="round"/>
<path d="M881.4 979.8L881.4 1011.2" fill="none" stroke="#111" stroke-width="1.8" stroke-linejoin="round" stroke-linecap="round"/>
<path d="M843.3 975.8L843.3 1007.2" fill="none" stroke="#111" stroke-width="1.8" stroke-linejoin="round" stroke-linecap="round"/>
<path d="M811.1 964.3L811.1 995.7" fill="none" stroke="#111" stroke-width="1.8" stroke-linejoin="round" stroke-linecap="round"/>
<path d="M793.5 948.5L793.5 979.6" fill="none" stroke="#111" stroke-width="1.8" stroke-linejoin="round" stroke-linecap="round"/>
<path d="M802.4 933.1L829.1 933.3" fill="none" stroke="#111" stroke-width="1.8" stroke-linejoin="round" stroke-linecap="round"/>
<path d="M799.1 947.2L827.2 941.6" fill="none" stroke="#111" stroke-width="1.8" stroke-linejoin="round" stroke-linecap="round"/>
<path d="M851.6 970.3L857.7 955.0" fill="none" stroke="#111" stroke-width="1.8" stroke-linejoin="round" stroke-linecap="round"/>
<path d="M881.3 972.9L874.9 956.5" fill="none" stroke="#111" stroke-width="1.8" stroke-linejoin="round" stroke-linecap="round"/>
<path d="M931.6 961.1L904.0 949.6" fill="none" stroke="#111" stroke-width="1.8" stroke-linejoin="round" stroke-linecap="round"/>
<path d="M826.5 925 L824.4 954.4 Q845 966 866 967 Q890 967 905.5 963.7 L909.5 930Z" fill="#fff" stroke="none"/>
<path d="M826.9 905.4 L824.4 954.4" fill="none" stroke="#111" stroke-width="2.0" stroke-linejoin="round" stroke-linecap="round"/>
<path d="M911.4 913 L905.5 963.7" fill="none" stroke="#111" stroke-width="2.0" stroke-linejoin="round" stroke-linecap="round"/>
<path d="M824.4 954.4C827.0 955.7 834.0 959.9 840.0 962.0C846.0 964.1 853.2 966.2 860.7 967.0C868.2 967.8 877.5 967.5 885.0 967.0C892.5 966.5 902.1 964.2 905.5 963.7" fill="none" stroke="#111" stroke-width="2.0" stroke-linejoin="round" stroke-linecap="round"/>
<path d="M835.4 904.5C837.8 906.4 843.0 912.6 850.0 916.0C857.0 919.4 869.1 924.9 877.6 924.8C886.1 924.7 897.3 917.0 901.3 915.5" fill="none" stroke="#111" stroke-width="2.0" stroke-linejoin="round" stroke-linecap="round"/>
<path d="M826.9 910.4C829.9 912.5 836.5 919.8 845.0 923.0C853.5 926.2 866.5 930.3 877.6 929.9C888.7 929.5 905.8 922.1 911.4 920.6" fill="none" stroke="#111" stroke-width="2.0" stroke-linejoin="round" stroke-linecap="round"/>
<path d="M393.9 819.9L394.1 819.2L394.5 818.6L395.2 817.9L396.2 817.3L397.2 816.8L398.4 816.3L399.7 815.8L401.0 815.3L402.2 814.8L403.3 814.3L404.3 813.8L405.2 813.3L405.9 812.8L406.3 812.2L406.6 811.6L406.8 810.9L406.8 810.2L406.7 809.5L406.5 808.7L406.4 807.9L406.3 807.2L406.3 806.4L406.4 805.6L406.7 804.9L407.3 804.3L408.0 803.7L409.0 803.2L410.2 802.7L411.6 802.3L413.1 802.0L414.9 801.8L416.7 801.6L418.6 801.5L420.5 801.4L422.4 801.3L424.2 801.1L425.9 801.0L427.5 800.8L429.0 800.6L430.3 800.3L431.5 799.9L432.6 799.5L433.6 799.0L434.5 798.5L435.4 797.9L436.3 797.3L437.2 796.7L438.1 796.1L439.2 795.5L440.4 795.0L441.7 794.6L443.1 794.2L444.6 794.0L446.3 793.8L448.1 793.7L450.0 793.8L452.0 793.9L454.0 794.1L456.1 794.3L458.1 794.6L460.1 794.9L462.1 795.2L464.0 795.5L465.9 795.7L467.7 795.8L469.5 795.9L471.1 796.0L472.8 795.9L474.4 795.8L476.0 795.6L477.7 795.4L479.3 795.1L481.0 794.8L482.7 794.5L484.5 794.3L486.3 794.1L488.1 794.0L490.0 793.9L491.9 794.0L493.8 794.1L495.6 794.4L497.5 794.7L499.3 795.2L501.1 795.7L502.8 796.2L504.5 796.8L506.1 797.5L507.7 798.1L509.3 798.7L510.8 799.2L512.3 799.8L513.9 800.2L515.5 800.6L517.2 801.0L518.9 801.2L520.7 801.4L522.6 801.6L524.5 801.7L526.5 801.9L528.5 802.0L530.6 802.1L532.6 802.3L534.7 802.6L536.6 802.9L538.5 803.2L540.2 803.7L541.9 804.2L543.3 804.8L544.7 805.4L545.8 806.1L546.9 806.8L547.8 807.6L548.6 808.4L549.4 809.2L550.1 810.0L550.8 810.7L551.6 811.4L552.5 812.1L553.5 812.8L554.6 813.4L555.8 813.9L557.2 814.5L558.7 815.0L560.4 815.5L562.1 816.0L564.0 816.4L565.8 817.0L567.6 817.5L569.4 818.0L571.0 818.6L572.5 819.2L573.8 819.9L574.8 820.6L575.7 821.3L576.3 822.0L576.6 822.8L576.8 823.5L576.8 824.3L576.6 825.1L576.4 825.8L576.1 826.5L575.8 827.3L575.5 828.0L575.4 828.6L575.4 829.3L575.5 830.0L575.9 830.7L576.4 831.3L577.2 832.0L578.0 832.7L579.1 833.4L580.2 834.1L581.3 834.9L582.4 835.6L583.5 836.4L584.4 837.1L585.2 837.9L585.8 838.6L586.1 839.4L586.1 840.1" fill="none" stroke="#111" stroke-width="2.0" stroke-linejoin="round" stroke-linecap="round"/>
<path d="M585.7 840.1L585.5 840.7L585.1 841.4L584.4 842.0L583.6 842.6L582.6 843.2L581.5 843.7L580.3 844.2L579.2 844.7L578.0 845.2L577.0 845.7L576.0 846.2L575.2 846.7L574.6 847.3L574.1 847.9L573.8 848.5L573.6 849.2L573.5 849.8L573.5 850.6L573.6 851.3L573.6 852.1L573.6 852.8L573.5 853.6L573.3 854.3L572.9 855.0L572.4 855.6L571.6 856.2L570.6 856.7L569.5 857.2L568.1 857.6L566.6 857.9L564.9 858.1L563.2 858.3L561.4 858.5L559.6 858.7L557.8 858.8L556.0 858.9L554.4 859.1L552.8 859.3L551.3 859.6L550.0 859.9L548.8 860.2L547.7 860.6L546.6 861.1L545.7 861.6L544.7 862.2L543.8 862.7L542.8 863.3L541.8 863.9L540.7 864.4L539.5 864.9L538.1 865.3L536.7 865.6L535.1 865.9L533.5 866.0L531.7 866.1L529.8 866.1L527.9 866.0L525.9 865.8L523.9 865.6L521.9 865.4L519.9 865.1L517.9 864.9L516.0 864.7L514.2 864.5L512.4 864.3L510.7 864.2L509.0 864.2L507.3 864.3L505.6 864.4L504.0 864.5L502.4 864.7L500.7 865.0L499.0 865.2L497.3 865.4L495.5 865.6L493.7 865.8L491.9 865.9L490.0 865.9L488.1 865.8L486.2 865.7L484.4 865.4L482.5 865.1L480.7 864.7L478.9 864.2L477.2 863.7L475.5 863.1L473.9 862.6L472.3 862.0L470.7 861.4L469.1 860.9L467.6 860.4L466.0 859.9L464.3 859.5L462.7 859.2L461.0 858.9L459.2 858.7L457.3 858.5L455.4 858.3L453.5 858.2L451.5 858.0L449.5 857.8L447.5 857.6L445.5 857.3L443.6 857.0L441.7 856.7L440.0 856.2L438.4 855.7L436.9 855.1L435.6 854.5L434.4 853.8L433.3 853.1L432.3 852.3L431.4 851.6L430.6 850.8L429.8 850.1L429.0 849.3L428.1 848.6L427.2 848.0L426.2 847.3L425.1 846.7L423.9 846.2L422.5 845.6L421.0 845.1L419.4 844.6L417.7 844.1L416.0 843.6L414.2 843.0L412.5 842.5L410.8 841.9L409.3 841.3L407.9 840.7L406.6 840.1L405.6 839.4L404.7 838.7L404.1 837.9L403.7 837.2L403.5 836.4L403.4 835.7L403.5 834.9L403.6 834.2L403.8 833.5L404.0 832.8L404.2 832.1L404.3 831.4L404.2 830.7L404.0 830.0L403.7 829.3L403.1 828.7L402.5 828.0L401.6 827.3L400.7 826.6L399.7 825.9L398.7 825.1L397.6 824.4L396.7 823.6L395.8 822.9L395.2 822.1L394.7 821.4L394.4 820.7L394.3 819.9" fill="none" stroke="#111" stroke-width="2.0" stroke-linejoin="round" stroke-linecap="round"/>
<path d="M398 822 L395.6 878" fill="none" stroke="#111" stroke-width="2.0" stroke-linejoin="round" stroke-linecap="round"/>
<path d="M582.3 840 L583 880" fill="none" stroke="#111" stroke-width="2.0" stroke-linejoin="round" stroke-linecap="round"/>
<path d="M395.6 878.0C398.4 880.8 405.8 890.9 412.5 894.7C419.2 898.5 427.9 899.0 435.8 900.9C443.7 902.8 452.8 904.7 460.0 906.0C467.2 907.3 474.4 908.8 479.2 908.7C483.9 908.6 481.8 906.0 488.5 905.6C495.2 905.2 508.8 907.1 519.4 906.3C530.0 905.5 543.2 903.5 552.0 900.9C560.8 898.3 566.9 894.3 572.1 890.8C577.3 887.3 581.2 881.8 583.0 880.0" fill="none" stroke="#111" stroke-width="2.0" stroke-linejoin="round" stroke-linecap="round"/>
<path d="M414 843.0L413.5 894.7" fill="none" stroke="#111" stroke-width="1.8" stroke-linejoin="round" stroke-linecap="round"/>
<path d="M444 857.1L443.5 901.5" fill="none" stroke="#111" stroke-width="1.8" stroke-linejoin="round" stroke-linecap="round"/>
<path d="M480 864.6L479.5 908.7" fill="none" stroke="#111" stroke-width="1.8" stroke-linejoin="round" stroke-linecap="round"/>
<path d="M519.4 865.1L518.9 906.3" fill="none" stroke="#111" stroke-width="1.8" stroke-linejoin="round" stroke-linecap="round"/>
<path d="M552.5 859.4L552.0 900.9" fill="none" stroke="#111" stroke-width="1.8" stroke-linejoin="round" stroke-linecap="round"/>
<path d="M571.4 856.3L570.9 890.8" fill="none" stroke="#111" stroke-width="1.8" stroke-linejoin="round" stroke-linecap="round"/>
<ellipse cx="490" cy="818" rx="32" ry="13" fill="none" stroke="#111" stroke-width="1.8" transform="rotate(3 490 818)"/>
<ellipse cx="490" cy="821" rx="25" ry="9" fill="none" stroke="#111" stroke-width="1.8" transform="rotate(3 490 821)"/>
<path d="M473.3 828.6L473.5 828.2L473.7 827.9L473.9 827.5L474.2 827.2L474.6 826.8L474.9 826.5L475.3 826.2L475.8 825.8L476.2 825.5L476.8 825.2L477.3 824.9L477.9 824.6L478.5 824.4L479.1 824.1L479.8 823.9L480.5 823.6L481.2 823.4L481.9 823.2L482.7 823.0L483.5 822.9L484.3 822.7L485.1 822.5L485.9 822.4L486.8 822.3L487.6 822.2L488.5 822.1L489.4 822.1L490.2 822.0L491.1 822.0L492.0 822.0L492.9 822.0L493.8 822.0L494.6 822.1L495.5 822.1L496.4 822.2L497.2 822.3L498.1 822.4L498.9 822.5L499.7 822.7L500.5 822.9L501.3 823.0L502.1 823.2L502.8 823.4L503.5 823.6L504.2 823.9L504.9 824.1L505.5 824.4L506.1 824.6L506.7 824.9L507.2 825.2L507.8 825.5L508.2 825.8L508.7 826.2L509.1 826.5L509.4 826.8L509.8 827.2L510.1 827.5L510.3 827.9L510.5 828.2L510.7 828.6" fill="none" stroke="#111" stroke-width="1.6" stroke-linejoin="round" stroke-linecap="round"/>
<path d="M527.7 834.6C526.4 834.3 526.7 834.4 526.3 834.1C525.9 833.9 525.6 833.6 525.5 833.3C525.3 833.0 525.3 832.7 525.3 832.3C525.4 832.0 525.6 831.6 525.8 831.3C526.1 831.0 526.5 830.7 527.0 830.4C527.4 830.2 528.0 829.9 528.5 829.8C529.1 829.6 529.7 829.5 530.3 829.5C530.9 829.5 530.6 829.5 532.0 829.6C533.4 829.8 536.5 830.2 538.8 830.5C541.1 830.8 543.3 831.1 545.6 831.4C547.9 831.7 550.1 832.0 552.4 832.3C554.7 832.6 557.0 832.9 559.2 833.2C561.5 833.5 564.6 833.8 566.1 834.0C567.5 834.3 567.6 834.5 568.1 834.9C568.6 835.3 569.0 835.8 569.2 836.3C569.4 836.8 569.4 837.5 569.3 838.1C569.1 838.7 568.7 839.4 568.2 840.0C567.7 840.6 567.0 841.2 566.2 841.7C565.4 842.2 564.5 842.6 563.6 842.9C562.7 843.2 561.6 843.4 560.7 843.5C559.8 843.6 559.5 843.7 558.0 843.4C556.6 843.1 554.0 842.2 552.0 841.6C549.9 841.1 547.9 840.5 545.9 839.9C543.9 839.3 541.8 838.7 539.8 838.1C537.8 837.6 535.8 837.0 533.7 836.4C531.7 835.8 528.9 835.0 527.7 834.6Z" fill="none" stroke="#111" stroke-width="1.9" stroke-linejoin="round" stroke-linecap="round"/>
<path d="M530.5 833.9C531.5 834.1 534.4 834.9 536.4 835.4C538.3 835.9 540.3 836.4 542.3 836.9C544.2 837.3 546.2 837.8 548.1 838.3C550.1 838.8 552.0 839.3 554.0 839.8C555.9 840.3 558.9 841.0 559.8 841.3" fill="none" stroke="#111" stroke-width="1.5" stroke-linejoin="round" stroke-linecap="round"/>
<path d="M496.6 840.7C496.3 840.0 496.3 840.1 496.5 839.8C496.6 839.5 497.1 839.2 497.6 839.0C498.2 838.7 499.0 838.5 499.9 838.3C500.8 838.1 501.9 837.9 502.9 837.8C504.0 837.7 505.2 837.7 506.3 837.7C507.3 837.7 508.5 837.8 509.4 837.9C510.3 838.1 511.2 838.2 511.8 838.5C512.5 838.7 512.3 838.6 513.3 839.2C514.2 839.9 516.0 841.2 517.4 842.2C518.8 843.1 520.1 844.1 521.5 845.1C522.9 846.1 524.3 847.0 525.6 848.0C527.0 849.0 528.4 849.9 529.8 850.9C531.2 851.9 533.2 853.1 533.9 853.8C534.6 854.5 534.3 854.7 533.9 855.2C533.6 855.6 532.8 856.1 531.7 856.5C530.6 856.9 529.1 857.3 527.5 857.6C525.9 857.9 524.0 858.2 522.1 858.4C520.2 858.5 518.1 858.6 516.2 858.6C514.3 858.6 512.4 858.5 510.8 858.4C509.2 858.2 507.7 857.9 506.6 857.6C505.5 857.3 505.0 857.2 504.3 856.5C503.7 855.8 503.3 854.4 502.8 853.3C502.3 852.3 501.8 851.2 501.2 850.2C500.7 849.1 500.2 848.1 499.7 847.0C499.2 846.0 498.7 844.9 498.2 843.9C497.6 842.8 496.9 841.4 496.6 840.7Z" fill="none" stroke="#111" stroke-width="1.9" stroke-linejoin="round" stroke-linecap="round"/>
<path d="M501.1 841.2C501.4 841.7 502.4 843.1 503.1 844.1C503.7 845.1 504.4 846.1 505.1 847.1C505.7 848.0 506.4 849.0 507.0 850.0C507.7 851.0 508.4 852.0 509.0 852.9C509.7 853.9 510.7 855.4 511.0 855.9" fill="none" stroke="#111" stroke-width="1.5" stroke-linejoin="round" stroke-linecap="round"/>
<path d="M465.6 835.4C466.6 834.9 466.4 835.0 467.0 834.9C467.7 834.8 468.6 834.7 469.5 834.7C470.5 834.7 471.6 834.8 472.7 835.0C473.7 835.2 474.9 835.4 476.0 835.7C477.0 835.9 478.1 836.3 478.9 836.6C479.8 836.9 480.6 837.3 481.1 837.7C481.7 838.0 482.0 838.4 482.2 838.7C482.3 839.0 482.3 838.9 482.0 839.5C481.6 840.2 480.8 841.5 480.2 842.4C479.6 843.4 479.0 844.3 478.4 845.3C477.8 846.3 477.2 847.2 476.6 848.2C476.0 849.1 475.3 850.1 474.7 851.1C474.1 852.0 473.6 853.3 472.9 854.0C472.2 854.6 471.7 854.6 470.6 854.7C469.5 854.8 468.0 854.9 466.4 854.8C464.8 854.7 462.8 854.5 460.9 854.2C459.1 853.9 457.0 853.4 455.1 853.0C453.3 852.5 451.4 851.9 449.8 851.4C448.2 850.8 446.8 850.1 445.8 849.6C444.8 849.0 444.0 848.4 443.7 847.9C443.3 847.4 443.1 847.2 443.8 846.6C444.5 846.0 446.7 845.1 448.2 844.4C449.6 843.6 451.1 842.9 452.5 842.1C454.0 841.4 455.4 840.6 456.9 839.9C458.3 839.1 459.8 838.4 461.2 837.6C462.7 836.9 464.6 835.9 465.6 835.4Z" fill="none" stroke="#111" stroke-width="1.9" stroke-linejoin="round" stroke-linecap="round"/>
<path d="M468.5 837.0C467.9 837.4 466.0 838.5 464.8 839.3C463.6 840.0 462.4 840.8 461.2 841.5C460.0 842.3 458.8 843.0 457.6 843.8C456.4 844.5 455.2 845.2 454.0 846.0C452.8 846.7 451.0 847.9 450.4 848.2" fill="none" stroke="#111" stroke-width="1.5" stroke-linejoin="round" stroke-linecap="round"/>
<path d="M451.1 828.0C452.4 827.9 452.1 827.9 452.7 827.9C453.3 828.0 454.0 828.1 454.7 828.3C455.3 828.4 456.1 828.7 456.7 829.0C457.3 829.3 457.9 829.6 458.4 829.9C458.9 830.3 459.3 830.7 459.6 831.0C459.9 831.3 460.0 831.7 460.1 832.0C460.1 832.3 460.0 832.6 459.7 832.8C459.5 833.0 459.7 832.9 458.7 833.2C457.7 833.6 455.3 834.2 453.7 834.8C452.0 835.3 450.3 835.8 448.6 836.3C446.9 836.8 445.3 837.3 443.6 837.8C441.9 838.3 440.2 838.8 438.6 839.3C436.9 839.8 434.8 840.6 433.5 840.8C432.2 841.1 431.9 841.0 430.9 840.9C429.9 840.7 428.7 840.5 427.6 840.1C426.5 839.8 425.2 839.3 424.1 838.8C423.0 838.2 421.9 837.6 421.0 837.0C420.1 836.3 419.3 835.6 418.7 835.0C418.2 834.4 417.8 833.7 417.6 833.2C417.5 832.7 417.6 832.2 417.9 831.8C418.2 831.5 418.1 831.3 419.4 831.1C420.7 830.8 423.6 830.6 425.7 830.4C427.9 830.2 430.0 830.0 432.1 829.8C434.2 829.6 436.3 829.4 438.4 829.2C440.5 829.0 442.6 828.8 444.8 828.6C446.9 828.4 449.8 828.1 451.1 828.0Z" fill="none" stroke="#111" stroke-width="1.9" stroke-linejoin="round" stroke-linecap="round"/>
<path d="M451.1 829.5C450.2 829.6 447.3 830.0 445.4 830.2C443.5 830.5 441.6 830.7 439.7 831.0C437.8 831.2 435.9 831.5 434.0 831.7C432.1 832.0 430.2 832.2 428.3 832.5C426.4 832.7 423.5 833.1 422.6 833.3" fill="none" stroke="#111" stroke-width="1.5" stroke-linejoin="round" stroke-linecap="round"/>
<path d="M450.0 815.5C451.3 815.8 450.9 815.7 451.3 815.9C451.7 816.0 452.0 816.3 452.2 816.5C452.4 816.8 452.6 817.1 452.6 817.4C452.6 817.7 452.6 818.0 452.4 818.3C452.3 818.6 452.0 818.9 451.7 819.1C451.4 819.4 451.0 819.6 450.6 819.8C450.2 819.9 449.7 820.0 449.2 820.1C448.7 820.1 449.1 820.1 447.8 820.0C446.4 819.9 443.2 819.7 440.9 819.5C438.6 819.3 436.3 819.1 434.0 818.9C431.7 818.8 429.4 818.6 427.1 818.4C424.8 818.2 422.5 818.0 420.2 817.8C417.9 817.6 414.8 817.5 413.4 817.3C411.9 817.1 411.9 816.9 411.3 816.6C410.7 816.3 410.2 815.8 409.9 815.3C409.5 814.8 409.4 814.2 409.3 813.6C409.3 813.1 409.5 812.4 409.8 811.8C410.1 811.2 410.5 810.6 411.1 810.2C411.6 809.7 412.4 809.2 413.1 808.9C413.8 808.5 414.7 808.3 415.5 808.2C416.3 808.0 416.4 807.9 417.9 808.2C419.4 808.4 422.2 809.1 424.3 809.6C426.5 810.1 428.6 810.6 430.8 811.1C432.9 811.6 435.1 812.1 437.2 812.6C439.3 813.0 441.5 813.5 443.6 814.0C445.8 814.5 448.8 815.2 450.0 815.5Z" fill="none" stroke="#111" stroke-width="1.9" stroke-linejoin="round" stroke-linecap="round"/>
<path d="M466.3 806.4C466.7 806.7 466.6 806.6 466.6 806.8C466.6 806.9 466.5 807.1 466.3 807.2C466.2 807.4 465.9 807.5 465.6 807.6C465.3 807.8 464.9 807.9 464.5 808.0C464.0 808.1 463.6 808.1 463.1 808.2C462.7 808.2 462.2 808.2 461.8 808.2C461.3 808.2 460.9 808.1 460.6 808.1C460.3 808.0 460.5 808.1 459.8 807.8C459.2 807.5 457.8 806.8 456.8 806.3C455.7 805.8 454.7 805.3 453.7 804.8C452.7 804.3 451.7 803.8 450.6 803.3C449.6 802.8 448.6 802.3 447.6 801.7C446.6 801.2 445.1 800.6 444.5 800.2C443.9 799.9 444.1 799.9 444.2 799.6C444.2 799.4 444.4 799.2 444.7 799.0C445.0 798.7 445.5 798.5 446.1 798.3C446.7 798.1 447.4 797.9 448.1 797.7C448.8 797.6 449.7 797.4 450.4 797.3C451.2 797.3 452.0 797.2 452.7 797.2C453.4 797.2 454.1 797.3 454.6 797.4C455.1 797.5 455.3 797.4 455.8 797.8C456.4 798.1 457.2 798.9 457.9 799.5C458.6 800.1 459.3 800.6 460.0 801.2C460.7 801.8 461.4 802.4 462.1 802.9C462.8 803.5 463.5 804.1 464.2 804.7C464.9 805.2 465.9 806.0 466.3 806.4Z" fill="none" stroke="#111" stroke-width="1.9" stroke-linejoin="round" stroke-linecap="round"/>
<path d="M510.9 809.0C510.4 809.3 510.5 809.2 510.3 809.3C510.0 809.3 509.6 809.4 509.2 809.3C508.7 809.3 508.2 809.3 507.8 809.2C507.3 809.2 506.8 809.1 506.3 809.0C505.8 808.9 505.3 808.7 504.9 808.6C504.5 808.4 504.2 808.3 503.9 808.1C503.7 808.0 503.5 807.8 503.4 807.7C503.3 807.5 503.3 807.6 503.5 807.3C503.7 806.9 504.2 806.2 504.6 805.6C504.9 805.1 505.3 804.5 505.7 804.0C506.0 803.4 506.4 802.9 506.7 802.3C507.1 801.8 507.5 801.2 507.8 800.7C508.2 800.1 508.6 799.4 508.9 799.0C509.3 798.7 509.5 798.8 509.9 798.7C510.4 798.6 511.0 798.6 511.7 798.6C512.4 798.7 513.3 798.7 514.1 798.9C515.0 799.0 515.9 799.2 516.7 799.4C517.5 799.6 518.4 799.8 519.1 800.0C519.8 800.3 520.4 800.5 520.9 800.8C521.4 801.0 521.7 801.3 521.9 801.5C522.0 801.7 522.2 801.8 521.9 802.1C521.5 802.4 520.4 803.0 519.7 803.5C518.9 803.9 518.2 804.4 517.5 804.9C516.7 805.3 516.0 805.8 515.3 806.2C514.5 806.7 513.8 807.2 513.1 807.6C512.3 808.1 511.3 808.7 510.9 809.0Z" fill="none" stroke="#111" stroke-width="1.9" stroke-linejoin="round" stroke-linecap="round"/>
<path d="M530.5 822.0C529.1 822.1 529.5 822.1 529.0 822.0C528.5 821.9 528.0 821.8 527.4 821.6C526.9 821.4 526.4 821.2 525.9 820.9C525.5 820.7 525.0 820.3 524.7 820.0C524.4 819.7 524.1 819.4 524.0 819.1C523.8 818.8 523.8 818.5 523.9 818.3C523.9 818.0 524.1 817.8 524.4 817.6C524.6 817.5 524.3 817.5 525.4 817.3C526.5 817.0 529.2 816.5 531.1 816.1C532.9 815.7 534.8 815.3 536.7 814.9C538.6 814.6 540.5 814.2 542.3 813.8C544.2 813.4 546.1 813.0 548.0 812.6C549.8 812.2 552.3 811.6 553.6 811.4C555.0 811.2 555.2 811.4 556.1 811.5C557.0 811.7 558.0 812.0 558.9 812.4C559.9 812.7 560.9 813.2 561.7 813.8C562.6 814.3 563.4 814.9 564.1 815.5C564.7 816.1 565.3 816.8 565.6 817.4C565.9 818.0 566.1 818.6 566.1 819.1C566.0 819.5 565.8 820.0 565.4 820.3C565.0 820.6 565.1 820.8 563.7 820.9C562.3 821.0 559.3 821.0 557.1 821.1C554.9 821.2 552.6 821.3 550.4 821.3C548.2 821.4 546.0 821.5 543.8 821.6C541.6 821.7 539.3 821.7 537.1 821.8C534.9 821.9 531.8 822.0 530.5 822.0Z" fill="none" stroke="#111" stroke-width="1.9" stroke-linejoin="round" stroke-linecap="round"/>
<path d="M437.3 902.5L437.3 912.5L433.5 920.3L433.5 929.0" fill="none" stroke="#111" stroke-width="2.0" stroke-linejoin="round" stroke-linecap="round"/>
<path d="M537.3 907.1L538.0 920.3L539.6 937.3" fill="none" stroke="#111" stroke-width="2.0" stroke-linejoin="round" stroke-linecap="round"/>
<path d="M536.8 907.1L536.4 908.1L535.9 909.1L535.3 910.1L534.6 911.1L533.8 912.1L532.8 913.1L531.8 914.0L530.7 915.0L529.4 915.9L528.1 916.7L526.7 917.6L525.1 918.4L523.5 919.2L521.9 919.9L520.1 920.6L518.3 921.3L516.4 921.9L514.4 922.5L512.4 923.0L510.3 923.5L508.1 924.0L505.9 924.4L503.7 924.8L501.4 925.1L499.1 925.4L496.8 925.6L494.4 925.8L492.1 925.9L489.7 926.0L487.3 926.0L484.9 926.0L482.5 925.9L480.2 925.8L477.8 925.6L475.5 925.4L473.2 925.1L470.9 924.8L468.7 924.4L466.5 924.0L464.3 923.5L462.2 923.0L460.2 922.5L458.2 921.9L456.3 921.3L454.5 920.6L452.7 919.9L451.1 919.2L449.5 918.4L447.9 917.6L446.5 916.7L445.2 915.9L443.9 915.0L442.8 914.0L441.8 913.1L440.8 912.1L440.0 911.1L439.3 910.1L438.7 909.1L438.2 908.1L437.8 907.1" fill="none" stroke="#111" stroke-width="2.0" stroke-linejoin="round" stroke-linecap="round"/>
<path d="M538.3 920.0L538.0 921.1L537.6 922.3L537.0 923.4L536.4 924.5L535.6 925.6L534.7 926.6L533.6 927.7L532.5 928.7L531.2 929.7L529.9 930.6L528.4 931.6L526.8 932.5L525.1 933.3L523.3 934.2L521.5 935.0L519.5 935.7L517.5 936.4L515.4 937.1L513.2 937.7L510.9 938.2L508.6 938.8L506.2 939.2L503.8 939.6L501.3 940.0L498.8 940.3L496.3 940.6L493.8 940.7L491.2 940.9L488.6 941.0L486.0 941.0L483.4 941.0L480.8 940.9L478.2 940.7L475.7 940.6L473.2 940.3L470.7 940.0L468.2 939.6L465.8 939.2L463.4 938.8L461.1 938.2L458.8 937.7L456.6 937.1L454.5 936.4L452.5 935.7L450.5 935.0L448.7 934.2L446.9 933.3L445.2 932.5L443.6 931.6L442.1 930.6L440.8 929.7L439.5 928.7L438.4 927.7L437.3 926.6L436.4 925.6L435.6 924.5L435.0 923.4L434.4 922.3L434.0 921.1L433.7 920.0" fill="none" stroke="#111" stroke-width="2.0" stroke-linejoin="round" stroke-linecap="round"/>
<path d="M537.7 935.0L537.0 936.2L536.2 937.4L535.2 938.6L534.2 939.8L533.0 940.9L531.8 942.0L530.4 943.1L529.0 944.1L527.4 945.2L525.8 946.1L524.1 947.1L522.2 947.9L520.3 948.8L518.4 949.6L516.3 950.3L514.2 951.0L512.0 951.7L509.8 952.2L507.5 952.8L505.2 953.3L502.8 953.7L500.4 954.1L498.0 954.4L495.5 954.6L493.0 954.8L490.5 954.9L488.0 955.0L485.5 955.0L483.0 954.9L480.5 954.8L478.0 954.7L475.5 954.4L473.1 954.1L470.7 953.8L468.3 953.4L466.0 952.9L463.7 952.4L461.4 951.8L459.2 951.2L457.1 950.5L455.1 949.7L453.1 949.0L451.2 948.1L449.3 947.2L447.6 946.3L445.9 945.4L444.3 944.4L442.9 943.3L441.5 942.3L440.2 941.2L439.0 940.0L438.0 938.9L437.0 937.7L436.2 936.5L435.4 935.3L434.8 934.0L434.3 932.8L433.9 931.5L433.7 930.2L433.5 928.9" fill="none" stroke="#111" stroke-width="2.0" stroke-linejoin="round" stroke-linecap="round"/>
<path d="M432.7 928.0C426.2 937.0 400.4 973.2 394.0 982.3Q389.7 990 389.7 1001.7 L389.7 1011" fill="none" stroke="#111" stroke-width="2.0" stroke-linejoin="round" stroke-linecap="round"/>
<path d="M539.6 937.3C545.3 944.9 568.3 975.4 574.0 983.0Q578.5 990 578.5 1002" fill="none" stroke="#111" stroke-width="2.0" stroke-linejoin="round" stroke-linecap="round"/>
<path d="M577.9 1000.0L577.8 1002.0L577.4 1004.1L576.7 1006.1L575.8 1008.1L574.7 1010.1L573.3 1012.1L571.6 1014.0L569.8 1015.9L567.6 1017.7L565.3 1019.5L562.7 1021.2L559.9 1022.9L556.9 1024.5L553.7 1026.1L550.3 1027.6L546.8 1029.0L543.0 1030.3L539.1 1031.6L535.1 1032.7L530.9 1033.8L526.5 1034.7L522.1 1035.6L517.5 1036.4L512.9 1037.1L508.2 1037.7L503.4 1038.1L498.5 1038.5L493.6 1038.8L488.7 1038.9L483.8 1039.0L478.9 1038.9L474.0 1038.8L469.1 1038.5L464.2 1038.1L459.4 1037.7L454.7 1037.1L450.1 1036.4L445.5 1035.6L441.1 1034.7L436.8 1033.8L432.5 1032.7L428.5 1031.6L424.6 1030.3L420.8 1029.0L417.3 1027.6L413.9 1026.1L410.7 1024.5L407.7 1022.9L404.9 1021.2L402.3 1019.5L400.0 1017.7L397.8 1015.9L396.0 1014.0L394.3 1012.1L392.9 1010.1L391.8 1008.1L390.9 1006.1L390.2 1004.1L389.8 1002.0L389.7 1000.0" fill="none" stroke="#111" stroke-width="2.0" stroke-linejoin="round" stroke-linecap="round"/>
<path d="M575.6 1012.9L574.9 1015.6L573.9 1018.3L572.8 1020.9L571.5 1023.5L569.9 1026.0L568.2 1028.5L566.3 1031.0L564.1 1033.4L561.8 1035.7L559.4 1038.0L556.7 1040.1L553.9 1042.2L550.9 1044.3L547.8 1046.2L544.5 1048.0L541.1 1049.8L537.5 1051.4L533.9 1052.9L530.1 1054.3L526.2 1055.6L522.2 1056.8L518.1 1057.9L514.0 1058.9L509.8 1059.7L505.5 1060.4L501.1 1061.0L496.8 1061.4L492.4 1061.7L487.9 1061.9L483.5 1062.0L479.1 1061.9L474.6 1061.7L470.2 1061.4L465.9 1061.0L461.5 1060.4L457.2 1059.7L453.0 1058.9L448.9 1057.9L444.8 1056.8L440.8 1055.6L436.9 1054.3L433.1 1052.9L429.5 1051.4L425.9 1049.8L422.5 1048.0L419.2 1046.2L416.1 1044.3L413.1 1042.2L410.3 1040.1L407.6 1038.0L405.2 1035.7L402.9 1033.4L400.7 1031.0L398.8 1028.5L397.1 1026.0L395.5 1023.5L394.2 1020.9L393.1 1018.3L392.1 1015.6L391.4 1012.9" fill="none" stroke="#111" stroke-width="2.0" stroke-linejoin="round" stroke-linecap="round"/>
<path d="M389.7 1011 Q381.5 1016 381.3 1030 L381.3 1119.7" fill="none" stroke="#111" stroke-width="2.0" stroke-linejoin="round" stroke-linecap="round"/>
<path d="M576.4 1017 Q582.6 1022 582.6 1035 L582.7 1121" fill="none" stroke="#111" stroke-width="2.0" stroke-linejoin="round" stroke-linecap="round"/>
<path d="M582.1 1031.9L581.6 1034.1L580.8 1036.3L579.8 1038.5L578.5 1040.7L577.0 1042.8L575.3 1044.9L573.3 1046.9L571.2 1048.9L568.8 1050.8L566.2 1052.7L563.4 1054.6L560.4 1056.3L557.3 1058.0L553.9 1059.6L550.4 1061.2L546.7 1062.6L542.8 1064.0L538.9 1065.3L534.7 1066.5L530.5 1067.6L526.1 1068.6L521.7 1069.5L517.1 1070.3L512.4 1071.0L507.7 1071.6L503.0 1072.1L498.1 1072.5L493.3 1072.8L488.4 1072.9L483.5 1073.0L478.6 1072.9L473.7 1072.8L468.9 1072.5L464.0 1072.1L459.3 1071.6L454.6 1071.0L449.9 1070.3L445.3 1069.5L440.9 1068.6L436.5 1067.6L432.3 1066.5L428.1 1065.3L424.2 1064.0L420.3 1062.6L416.6 1061.2L413.1 1059.6L409.7 1058.0L406.6 1056.3L403.6 1054.6L400.8 1052.7L398.2 1050.8L395.8 1048.9L393.7 1046.9L391.7 1044.9L390.0 1042.8L388.5 1040.7L387.2 1038.5L386.2 1036.3L385.4 1034.1L384.9 1031.9" fill="none" stroke="#111" stroke-width="2.0" stroke-linejoin="round" stroke-linecap="round"/>
<path d="M423.0 1044.3C427.5 1045.4 439.9 1049.5 450.0 1051.0C460.1 1052.5 471.8 1053.6 483.5 1053.6C495.2 1053.6 509.2 1052.9 520.0 1051.0C530.8 1049.1 543.8 1043.5 548.5 1042.0" fill="none" stroke="#111" stroke-width="2.0" stroke-linejoin="round" stroke-linecap="round"/>
<path d="M582.7 1118.0L582.6 1120.7L582.1 1123.3L581.5 1126.0L580.5 1128.6L579.3 1131.2L577.8 1133.8L576.0 1136.3L574.0 1138.7L571.7 1141.2L569.2 1143.5L566.5 1145.8L563.5 1148.0L560.3 1150.1L556.8 1152.1L553.2 1154.1L549.4 1155.9L545.4 1157.6L541.2 1159.3L536.8 1160.8L532.4 1162.2L527.7 1163.4L523.0 1164.6L518.1 1165.6L513.1 1166.5L508.1 1167.3L502.9 1167.9L497.8 1168.4L492.5 1168.7L487.3 1168.9L482.0 1169.0L476.7 1168.9L471.5 1168.7L466.2 1168.4L461.1 1167.9L455.9 1167.3L450.9 1166.5L445.9 1165.6L441.0 1164.6L436.3 1163.4L431.7 1162.2L427.2 1160.8L422.8 1159.3L418.6 1157.6L414.6 1155.9L410.8 1154.1L407.2 1152.1L403.7 1150.1L400.5 1148.0L397.5 1145.8L394.8 1143.5L392.3 1141.2L390.0 1138.7L388.0 1136.3L386.2 1133.8L384.7 1131.2L383.5 1128.6L382.5 1126.0L381.9 1123.3L381.4 1120.7L381.3 1118.0" fill="none" stroke="#111" stroke-width="2.0" stroke-linejoin="round" stroke-linecap="round"/>
<path d="M379.9 1071.7 Q350 1074 340 1082 Q336 1088 336.2 1095 L335.4 1110.7 L373 1216 Q379 1231 407.9 1230.5 L623.8 1187.6 Q635.6 1185 635.6 1175.8 L635.6 1158 Q635 1150 632.7 1149.2 L588.3 1090 L582.7 1078.7" fill="none" stroke="#111" stroke-width="2.0" stroke-linejoin="round" stroke-linecap="round"/>
<path d="M338 1090 L342.8 1098.9 L384.2 1199.4 Q389 1210 413.8 1209.8 L615 1172.8 Q628 1170 632.7 1153.6" fill="none" stroke="#111" stroke-width="2.0" stroke-linejoin="round" stroke-linecap="round"/>
<ellipse cx="413.8" cy="1184.6" rx="22.9" ry="12.6" fill="none" stroke="#111" stroke-width="1.9" transform="rotate(-6 413.8 1184.6)"/>
<path d="M399.5 1191.0L399.5 1190.7L399.6 1190.3L399.7 1190.0L399.8 1189.6L400.0 1189.3L400.3 1189.0L400.5 1188.7L400.8 1188.4L401.2 1188.0L401.6 1187.8L402.0 1187.5L402.5 1187.2L403.0 1186.9L403.5 1186.7L404.0 1186.4L404.6 1186.2L405.2 1185.9L405.9 1185.7L406.6 1185.5L407.2 1185.4L408.0 1185.2L408.7 1185.1L409.4 1184.9L410.2 1184.8L411.0 1184.7L411.8 1184.6L412.6 1184.6L413.4 1184.5L414.2 1184.5L415.0 1184.5L415.8 1184.5L416.6 1184.5L417.4 1184.6L418.2 1184.6L419.0 1184.7L419.8 1184.8L420.6 1184.9L421.3 1185.1L422.0 1185.2L422.8 1185.4L423.4 1185.5L424.1 1185.7L424.8 1185.9L425.4 1186.2L426.0 1186.4L426.5 1186.7L427.0 1186.9L427.5 1187.2L428.0 1187.5L428.4 1187.8L428.8 1188.0L429.2 1188.4L429.5 1188.7L429.7 1189.0L430.0 1189.3L430.2 1189.6L430.3 1190.0L430.4 1190.3L430.5 1190.7L430.5 1191.0" fill="none" stroke="#111" stroke-width="1.9" stroke-linejoin="round" stroke-linecap="round"/>
<ellipse cx="597.2" cy="1152.7" rx="22.2" ry="11.5" fill="none" stroke="#111" stroke-width="1.9" transform="rotate(-6 597.2 1152.7)"/>
<path d="M582.0 1158.5L582.0 1158.2L582.1 1157.8L582.2 1157.5L582.3 1157.2L582.5 1156.9L582.8 1156.6L583.1 1156.2L583.4 1155.9L583.7 1155.6L584.1 1155.3L584.6 1155.1L585.1 1154.8L585.6 1154.5L586.1 1154.3L586.7 1154.0L587.3 1153.8L587.9 1153.6L588.6 1153.4L589.3 1153.2L590.0 1153.0L590.7 1152.9L591.5 1152.7L592.3 1152.6L593.1 1152.5L593.9 1152.4L594.7 1152.3L595.5 1152.3L596.3 1152.2L597.2 1152.2L598.0 1152.2L598.8 1152.2L599.7 1152.2L600.5 1152.3L601.3 1152.3L602.1 1152.4L602.9 1152.5L603.7 1152.6L604.5 1152.7L605.3 1152.9L606.0 1153.0L606.7 1153.2L607.4 1153.4L608.1 1153.6L608.7 1153.8L609.3 1154.0L609.9 1154.3L610.4 1154.5L610.9 1154.8L611.4 1155.1L611.9 1155.3L612.3 1155.6L612.6 1155.9L612.9 1156.2L613.2 1156.6L613.5 1156.9L613.7 1157.2L613.8 1157.5L613.9 1157.8L614.0 1158.2L614.0 1158.5" fill="none" stroke="#111" stroke-width="1.9" stroke-linejoin="round" stroke-linecap="round"/>
<path d="M379.5 1076.8 Q352 1078 351.7 1087.3 Q353 1097 379.5 1097.2" fill="none" stroke="#111" stroke-width="1.9" stroke-linejoin="round" stroke-linecap="round"/>
<path d="M379.5 1086.5 Q360 1087 360 1092 Q362 1096 379.5 1097" fill="none" stroke="#111" stroke-width="1.9" stroke-linejoin="round" stroke-linecap="round"/>
<g fill="none" stroke="#c6df62" stroke-width="3"><ellipse cx="492.7" cy="855.6" rx="122.7" ry="73.7"/><ellipse cx="484" cy="1053.4" rx="105.6" ry="14.2"/><ellipse cx="906.5" cy="787.6" rx="91" ry="13.5" transform="rotate(2 906.5 787.6)"/><ellipse cx="867" cy="958" rx="108.3" ry="57.2"/></g>
<path d="M426.4 846.0L257.3 841.7" stroke="#d3121b" stroke-width="2.8" fill="none"/><path d="M426.4 845.3L257.3 841.0" stroke="#d3121b" stroke-width="2.6" stroke-dasharray="4 3" fill="none"/><path d="M246.3 841.4L257.4 837.2L257.2 846.2Z" fill="#d3121b"/>
<path d="M438.7 1054.0L324.0 1053.1" stroke="#d3121b" stroke-width="2.8" fill="none"/><path d="M438.7 1053.3L324.0 1052.4" stroke="#d3121b" stroke-width="2.6" stroke-dasharray="4 3" fill="none"/><path d="M313.0 1053.0L324.0 1048.6L324.0 1057.6Z" fill="#d3121b"/>
<path d="M931.3 788.8L1058.4 913.1" stroke="#d3121b" stroke-width="2.8" fill="none"/><path d="M930.8 789.3L1057.9 913.6" stroke="#d3121b" stroke-width="2.6" stroke-dasharray="4 3" fill="none"/><path d="M1066.3 920.8L1055.3 916.3L1061.6 909.9Z" fill="#d3121b"/>
<path d="M889.5 991.2L987.2 1115.6" stroke="#d3121b" stroke-width="2.8" fill="none"/><path d="M888.9 991.6L986.7 1116.1" stroke="#d3121b" stroke-width="2.6" stroke-dasharray="4 3" fill="none"/><path d="M994.0 1124.3L983.7 1118.4L990.7 1112.9Z" fill="#d3121b"/>
<g font-family='"Liberation Sans", sans-serif' fill="#111" stroke="#fff" stroke-width="0.6">
<text x="-3" y="821.3" font-size="41" textLength="386" lengthAdjust="spacingAndGlyphs">High hardness nylon</text>
<text x="57.5" y="1070.3" font-size="41" textLength="247" lengthAdjust="spacingAndGlyphs">Nylon gasket</text>
<text x="1068" y="930.4" font-size="41" textLength="246" lengthAdjust="spacingAndGlyphs">Nylon gasket</text>
<text x="1005.5" y="1128.1" font-size="41" textLength="386" lengthAdjust="spacingAndGlyphs">High hardness nylon</text>
<text x="664.5" y="1133.5" font-size="41" textLength="92" lengthAdjust="spacingAndGlyphs">0.32″</text>
<text x="0" y="0" font-size="35" text-anchor="middle" textLength="77" lengthAdjust="spacingAndGlyphs" transform="translate(533.5 1268) rotate(-12.2)">3.48″</text>
<text x="0" y="0" font-size="35" text-anchor="middle" textLength="82" lengthAdjust="spacingAndGlyphs" transform="translate(296 1177) rotate(71.4)">3.48″</text>
</g>
<path d="M310.3 1110.7L356.1 1246.8" stroke="#111" stroke-width="1.8"/><path d="M310.3 1110.7L311.1 1124.1L317.8 1121.9Z" fill="#111"/><path d="M356.1 1246.8L348.6 1235.6L355.3 1233.4Z" fill="#111"/>
<path d="M394.6 1254.2L651.9 1198.8" stroke="#111" stroke-width="1.8"/><path d="M394.6 1254.2L408.0 1254.9L406.6 1248.0Z" fill="#111"/><path d="M651.9 1198.8L639.9 1205.0L638.5 1198.1Z" fill="#111"/>
<path d="M655.9 1119.5L606 1156" stroke="#111" stroke-width="1.4"/><path d="M601 1159.8L608 1150L612 1155Z" fill="#111"/>
<g font-family='"Liberation Sans", sans-serif' fill="#2a17dc" stroke="#fff" stroke-width="0.6">
<text x="274.5" y="1382.7" font-size="61" textLength="1145" lengthAdjust="spacingAndGlyphs">The main body is marine grade aluminum</text>
<text x="444.8" y="1481.5" font-size="61" textLength="973" lengthAdjust="spacingAndGlyphs">coated with a black protective layer</text>
</g>
</svg>
</body></html>
